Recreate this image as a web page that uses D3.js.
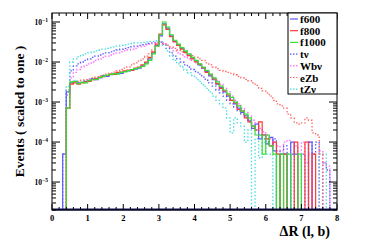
<!DOCTYPE html>
<html>
<head>
<meta charset="utf-8">
<script src="https://cdn.jsdelivr.net/npm/d3@7"></script>
<style>
  body { margin: 0; background: #fff; }
  text { font-family: "Liberation Serif", "DejaVu Serif", serif; font-weight: bold; }
</style>
</head>
<body>
<div class="my_div"></div>
<script>
// Histogram contents, bins of 0.1 from 0 to 8
var f600 = [0,0,0,5e-5,1.8e-3,3.0e-3,3.3e-3,3.0e-3,3.1e-3,3.3e-3,
  3.5e-3,3.8e-3,3.6e-3,4.0e-3,4.5e-3,4.4e-3,4.8e-3,5.0e-3,5.3e-3,5.2e-3,
  5.8e-3,6.0e-3,6.4e-3,6.6e-3,7.0e-3,8.0e-3,9.5e-3,1.2e-2,1.7e-2,2.6e-2,
  4.5e-2,9.0e-2,7.0e-2,4.5e-2,3.3e-2,2.7e-2,2.2e-2,1.8e-2,1.5e-2,1.25e-2,
  1.05e-2,8.5e-3,7e-3,5.8e-3,4.5e-3,3.6e-3,2.8e-3,2.3e-3,1.8e-3,1.4e-3,
  1.1e-3,9e-4,7e-4,5.5e-4,4.5e-4,3.5e-4,2.2e-4,2.8e-4,1.2e-4,1.5e-4,
  9e-5,1.3e-4,6e-5,0,5e-5,5e-5,0,1e-4,5e-5,0,
  0,0,1e-4,0,0,0,0,0,0,0]
var f800 = [0,0,0,0,7e-4,2.8e-3,3.0e-3,2.8e-3,3.0e-3,3.2e-3,
  3.3e-3,3.6e-3,3.9e-3,4.2e-3,4.3e-3,4.6e-3,5.0e-3,4.9e-3,5.5e-3,5.6e-3,
  6.0e-3,6.3e-3,6.2e-3,7.0e-3,7.5e-3,8.5e-3,1.0e-2,1.3e-2,1.8e-2,2.8e-2,
  5.0e-2,8.5e-2,6.5e-2,4.3e-2,3.2e-2,2.6e-2,2.1e-2,1.75e-2,1.45e-2,1.2e-2,
  1.0e-2,8.8e-3,7.2e-3,5.5e-3,4.8e-3,3.8e-3,2.9e-3,2.2e-3,1.9e-3,1.5e-3,
  1.1e-3,9.5e-4,6.5e-4,6e-4,4e-4,3.2e-4,2.5e-4,2e-4,3.2e-4,1.5e-4,
  1.2e-4,8e-5,1e-4,5e-5,0,5e-5,0,0,1e-4,0,
  0,1e-4,0,5e-5,0,0,0,0,0,0]
var f1000 = [0,0,0,0,7e-4,3.2e-3,3.3e-3,2.9e-3,3.1e-3,3.0e-3,
  3.4e-3,3.6e-3,3.7e-3,4.1e-3,4.4e-3,4.7e-3,4.9e-3,5.1e-3,5.0e-3,5.5e-3,
  5.7e-3,6.1e-3,6.5e-3,6.8e-3,7.2e-3,7.8e-3,9.0e-3,1.1e-2,1.6e-2,2.5e-2,
  4.8e-2,1.0e-1,7.5e-2,4.8e-2,3.5e-2,2.8e-2,2.3e-2,1.9e-2,1.6e-2,1.3e-2,
  1.1e-2,9e-3,7.5e-3,6.2e-3,5e-3,4e-3,3.2e-3,2.5e-3,2e-3,1.6e-3,
  1.3e-3,1e-3,8e-4,6e-4,5e-4,4e-4,2.5e-4,1.5e-4,1.5e-4,5e-5,
  1.5e-4,8e-5,5e-5,0,5e-5,0,5e-5,0,0,5e-5,
  0,0,0,0,0,0,0,0,0,0]
var tnu = [0,0,0,5e-5,2e-3,6e-3,8e-3,9e-3,1.0e-2,1.1e-2,
  1.2e-2,1.3e-2,1.4e-2,1.5e-2,1.6e-2,1.7e-2,1.8e-2,1.9e-2,2.0e-2,2.1e-2,
  2.2e-2,2.3e-2,2.4e-2,2.5e-2,2.6e-2,2.7e-2,2.8e-2,2.9e-2,3.0e-2,3.1e-2,
  3.1e-2,2.8e-2,2.2e-2,1.7e-2,1.4e-2,1.2e-2,1.0e-2,8.5e-3,7.5e-3,6.5e-3,
  5.8e-3,5e-3,4.2e-3,3.5e-3,3e-3,2.5e-3,2e-3,1.7e-3,1.4e-3,1.1e-3,
  9e-4,7.5e-4,6e-4,5e-4,4e-4,3.2e-4,2.5e-4,2e-4,1.5e-4,1.2e-4,
  1e-4,8e-5,1.2e-4,6e-5,5e-5,8e-5,0,5e-5,0,0,
  5e-5,0,1e-4,5e-5,1e-4,0,3e-5,2e-5,0,0]
var wbnu = [0,0,0,0,1.5e-3,4e-3,5.5e-3,6.5e-3,7.5e-3,8.2e-3,
  9e-3,1.0e-2,1.1e-2,1.2e-2,1.3e-2,1.4e-2,1.5e-2,1.6e-2,1.7e-2,1.8e-2,
  1.9e-2,2.0e-2,2.1e-2,2.2e-2,2.4e-2,2.5e-2,2.7e-2,2.8e-2,3.0e-2,3.1e-2,
  3.2e-2,3.0e-2,2.6e-2,2.2e-2,1.9e-2,1.7e-2,1.5e-2,1.35e-2,1.2e-2,1.1e-2,
  9.5e-3,8.2e-3,7e-3,6e-3,5e-3,4.2e-3,3.5e-3,2.8e-3,2.2e-3,1.8e-3,
  1.4e-3,1.1e-3,9e-4,7e-4,5.5e-4,4.5e-4,3.5e-4,3e-4,2.2e-4,1.8e-4,
  1.5e-4,1.2e-4,1e-4,8e-5,6e-5,1e-4,1.1e-4,5e-5,8e-5,5e-5,
  1e-4,3e-5,5e-5,0,0,6e-5,3e-5,2.5e-5,0,0]
var ezb = [0,0,0,0,7e-4,3e-3,3.2e-3,3.3e-3,3.5e-3,3.6e-3,
  3.8e-3,4e-3,4.2e-3,4.5e-3,4.7e-3,5e-3,5.3e-3,5.6e-3,6e-3,6.5e-3,
  7e-3,7.6e-3,8.5e-3,9.5e-3,1.05e-2,1.2e-2,1.4e-2,1.6e-2,2.0e-2,2.5e-2,
  2.9e-2,2.8e-2,2.6e-2,2.4e-2,2.2e-2,2.0e-2,1.8e-2,1.7e-2,1.55e-2,1.45e-2,
  1.3e-2,1.2e-2,1.1e-2,9.5e-3,8.5e-3,7.5e-3,6.8e-3,6.2e-3,5.8e-3,5.5e-3,
  5.2e-3,4.8e-3,4.4e-3,4.0e-3,3.7e-3,3.4e-3,3.0e-3,2.6e-3,2.2e-3,1.9e-3,
  1.7e-3,1.4e-3,1.1e-3,9e-4,8e-4,7e-4,5e-4,4e-4,3e-4,2.8e-4,
  3e-4,4e-4,3.5e-4,1.7e-4,1.5e-4,5e-5,0,0,0,0]
var tznu = [0,0,0,0,2.5e-3,1e-2,1.2e-2,1.35e-2,1.5e-2,1.6e-2,
  1.7e-2,1.8e-2,1.9e-2,2.0e-2,2.1e-2,2.2e-2,2.3e-2,2.4e-2,2.5e-2,2.6e-2,
  2.7e-2,2.8e-2,2.9e-2,3.0e-2,3.0e-2,3.1e-2,3.2e-2,3.3e-2,3.3e-2,3.4e-2,
  3.3e-2,2.6e-2,1.9e-2,1.4e-2,1.1e-2,9e-3,7.5e-3,6.3e-3,5.4e-3,4.6e-3,
  4e-3,3.3e-3,2.7e-3,2.2e-3,1.8e-3,1.4e-3,1.1e-3,9e-4,7e-4,4e-4,
  1.7e-4,4e-4,3e-4,2.5e-4,1e-4,2e-4,0,1.2e-4,4e-5,1e-4,
  5e-5,5e-5,0,5e-5,0,0,5e-5,0,0,0,
  0,0,0,0,0,5e-5,5e-5,0,0,0]

var names = ["f600", "f800", "f1000", "t\u03bd", "Wb\u03bd", "eZb", "tZ\u03bd"]
var colors = ["#5a5aff", "#ff3a3a", "#33e033", "#5a5aff", "#ff66ff", "#ff6666", "#44dddd"]
var dotted = [false, false, false, true, true, true, true]
var series = [f600, f800, f1000, tnu, wbnu, ezb, tznu]
var xTicks = [0, 1, 2, 3, 4, 5, 6, 7, 8]
var yExps = [-1, -2, -3, -4, -5]

var width = 374, height = 248
var padL = 52, padR = 337, padT = 13, padB = 210
var yMin = 2e-6, yMax = 0.168

var xScale = d3.scaleLinear().domain([0, 8]).range([padL, padR])
var yScale = d3.scaleLog().domain([yMin, yMax]).range([padB, padT]).clamp(true)

var svg = d3.select(".my_div").append("svg")
    .attr("width", width)
    .attr("height", height)

svg.append("defs").append("clipPath").attr("id", "clip")
    .append("rect").attr("x", padL).attr("y", padT)
    .attr("width", padR - padL).attr("height", padB - padT)

// Step line for each histogram
var line = d3.line()
    .x((d) => { return xScale(d[0]) })
    .y((d) => { return yScale(d[1] > 0 ? d[1] : yMin) })
    .curve(d3.curveStepAfter)

var g = svg.append("g").attr("clip-path", "url(#clip)")

var order = [3, 4, 6, 5, 0, 1, 2]
order.forEach((k) => {
    var vals = series[k]
    var pts = vals.map((v, i) => [i * 0.1, v])
    pts.push([8, vals[vals.length - 1]])
    g.append("path")
        .datum(pts)
        .attr("d", line)
        .attr("fill", "none")
        .attr("stroke", colors[k])
        .attr("stroke-width", dotted[k] ? 1.3 : 1.2)
        .attr("stroke-dasharray", dotted[k] ? "1.5,2" : null)
})

// dark baseline along the bottom
svg.append("line")
    .attr("x1", padL).attr("x2", padR)
    .attr("y1", padB - 0.5).attr("y2", padB - 0.5)
    .attr("stroke", "#101060").attr("stroke-width", 2)

// Frame
svg.append("rect")
    .attr("x", padL).attr("y", padT)
    .attr("width", padR - padL).attr("height", padB - padT)
    .attr("fill", "none").attr("stroke", "black").attr("stroke-width", 1)

// x ticks, bottom and top
var xMinor = d3.range(0, 8.01, 0.2)
xMinor.forEach((v) => {
    var major = Math.abs(v - Math.round(v)) < 1e-6
    var len = major ? 6 : 3
    var x = xScale(v)
    svg.append("line").attr("x1", x).attr("x2", x).attr("y1", padB).attr("y2", padB - len)
        .attr("stroke", "black").attr("stroke-width", 1)
    svg.append("line").attr("x1", x).attr("x2", x).attr("y1", padT).attr("y2", padT + len)
        .attr("stroke", "black").attr("stroke-width", 1)
})
svg.selectAll(".xlab").data(xTicks).enter().append("text")
    .attr("x", (d) => xScale(d))
    .attr("y", padB + 11)
    .attr("text-anchor", "middle")
    .attr("font-size", 8.5)
    .text((d) => d)

// y ticks, left and right
for (var e = -6; e <= -1; e++) {
    for (var m = 1; m <= 9; m++) {
        var v = m * Math.pow(10, e)
        if (v < yMin || v > yMax) continue
        var y = yScale(v)
        var len = m === 1 ? 8 : 4
        svg.append("line").attr("x1", padL).attr("x2", padL + len).attr("y1", y).attr("y2", y)
            .attr("stroke", "black").attr("stroke-width", 1)
        svg.append("line").attr("x1", padR).attr("x2", padR - len).attr("y1", y).attr("y2", y)
            .attr("stroke", "black").attr("stroke-width", 1)
    }
}
var ylab = svg.selectAll(".ylab").data(yExps).enter().append("text")
    .attr("x", padL - 4)
    .attr("y", (d) => yScale(Math.pow(10, d)) + 3)
    .attr("text-anchor", "end")
    .attr("font-size", 7.5)
ylab.append("tspan").text("10")
ylab.append("tspan").attr("dy", -3).attr("font-size", 5.5).text((d) => "\u2212" + (-d))

// Axis titles
svg.append("text")
    .attr("transform", "translate(24," + ((padT + padB) / 2) + ") rotate(-90)")
    .attr("text-anchor", "middle")
    .attr("font-size", 13.5)
    .text("Events ( scaled to one )")

svg.append("text")
    .attr("x", 330)
    .attr("y", 236)
    .attr("text-anchor", "end")
    .attr("font-size", 14)
    .text("\u0394R (l, b)")

// Legend
var lg = svg.append("g")
lg.append("rect")
    .attr("x", 288).attr("y", padT)
    .attr("width", padR - 288).attr("height", 94 - padT)
    .attr("fill", "white").attr("stroke", "black").attr("stroke-width", 1)
names.forEach((n, i) => {
    var y = 19 + i * 11.7
    lg.append("line").attr("x1", 290).attr("x2", 298).attr("y1", y).attr("y2", y)
        .attr("stroke", colors[i]).attr("stroke-width", 1.2)
        .attr("stroke-dasharray", dotted[i] ? "1.5,1.5" : null)
    lg.append("text").attr("x", 300).attr("y", y + 4)
        .attr("font-size", 11)
        .text(n)
})
</script>
</body>
</html>
